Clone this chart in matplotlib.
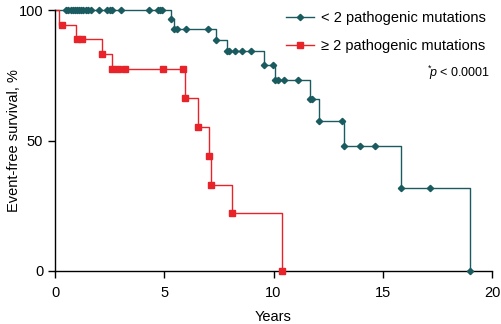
import matplotlib
matplotlib.use("Agg")
import matplotlib.pyplot as plt
import numpy as np

plt.rcParams['font.family'] = ['Liberation Sans', 'DejaVu Sans']
plt.rcParams['mathtext.fontset'] = 'custom'
plt.rcParams['mathtext.rm'] = 'Liberation Sans'
plt.rcParams['mathtext.it'] = 'Liberation Sans:italic'

# Kaplan-Meier steps (years, survival %)
low_times = [0, 5.33, 5.45, 7.37, 7.88, 9.57, 10.07, 11.67, 12.1, 13.22, 15.82, 19.0]
low_surv = [100, 96.4, 92.9, 88.5, 84.3, 79.0, 73.2, 65.8, 57.5, 47.9, 31.9, 0]
low_marks = [0.5, 0.6, 0.73, 0.82, 0.9, 1.0, 1.1, 1.2, 1.3, 1.4, 1.5, 1.65, 2.0,
             2.4, 2.5, 2.6, 3.0, 4.3, 4.7, 4.8, 4.9, 5.33, 5.45, 5.6, 6.0, 7.0,
             7.37, 7.88, 7.97, 8.24, 8.56, 8.97, 9.57, 9.96, 10.07, 10.2, 10.5,
             11.13, 11.67, 11.75, 12.1, 13.15, 13.22, 13.97, 14.66, 15.82, 17.15, 19.0]

high_times = [0, 0.2, 0.96, 2.13, 2.6, 5.95, 6.56, 7.03, 7.12, 8.08, 10.4]
high_surv = [100, 94.4, 88.9, 83.3, 77.3, 66.2, 55.2, 44.1, 33.1, 22.1, 0]
high_marks = [0.3, 1.0, 1.25, 2.13, 2.6, 2.9, 3.2, 4.96, 5.87, 5.95, 6.56,
              7.03, 7.12, 8.08, 10.4]

labels = ["< 2 pathogenic mutations", "\u2265 2 pathogenic mutations"]
teal = "#1a5b60"
red = "#e8232a"


def km_curve(ax, times, surv, marks, color, marker, msize, label):
    times = np.asarray(times)
    surv = np.asarray(surv)
    ax.step(times, surv, where='post', color=color, lw=1.0, clip_on=False)
    idx = np.searchsorted(times, marks, side='right') - 1
    ax.plot(marks, surv[idx], ls='none', marker=marker, ms=msize, color=color,
            mec=color, clip_on=False, zorder=3)
    # proxy for legend
    ax.plot([], [], color=color, lw=1.0, marker=marker, ms=msize, label=label)


fig = plt.figure(figsize=(5.02, 3.24), dpi=100)
ax = fig.add_axes([0.1096, 0.1636, 0.8705, 0.8055])

km_curve(ax, low_times, low_surv, low_marks, teal, 'D', 3.2, labels[0])
km_curve(ax, high_times, high_surv, high_marks, red, 's', 3.8, labels[1])

ax.set_xlim(0, 20)
ax.set_ylim(0, 100)
ax.set_xticks([0, 5, 10, 15, 20])
ax.set_yticks([0, 50, 100])
ax.spines['top'].set_visible(False)
ax.spines['right'].set_visible(False)
ax.spines['left'].set_linewidth(1.0)
ax.spines['bottom'].set_linewidth(1.0)
ax.tick_params(direction='out', length=5, width=1.0, labelsize=10.5)
ax.tick_params(axis='x', pad=6)
ax.set_xlabel("Years", fontsize=10.5, labelpad=7)
ax.set_ylabel("Event-free survival, %", fontsize=10.5, labelpad=-2)

ax.legend(loc='upper right', bbox_to_anchor=(1.0, 1.018), frameon=False,
          fontsize=10.5, handlelength=1.9, handletextpad=0.5, labelspacing=0.95,
          borderaxespad=0.0)
ax.text(0.995, 0.76, r"$^{*}\!p$ < 0.0001", transform=ax.transAxes,
        ha='right', va='center', fontsize=9)

fig.savefig("out.png", dpi=100)
